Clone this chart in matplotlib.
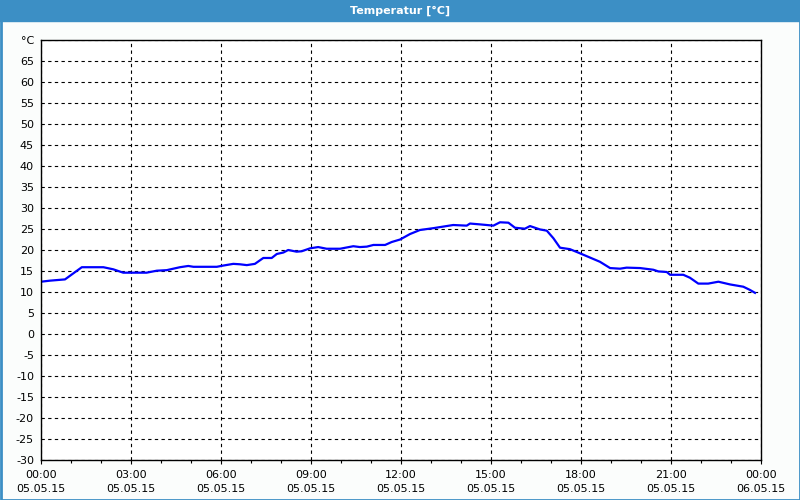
import numpy as np
import matplotlib.pyplot as plt
from matplotlib.patches import Rectangle

# data (hours since 05.05.15 00:00, temperature in °C)
hours = [0.0, 0.3, 0.8, 1.36, 2.08, 2.41, 2.74, 3.52, 3.86, 4.19, 4.63, 4.91, 5.08, 5.86,
         6.08, 6.41, 6.63, 6.86, 7.13, 7.41, 7.69, 7.86, 8.08, 8.24, 8.52, 8.69, 8.97, 9.24,
         9.52, 9.97, 10.41, 10.63, 10.86, 11.08, 11.47, 11.69, 11.97, 12.3, 12.63, 13.08,
         13.52, 13.74, 14.19, 14.3, 14.63, 15.08, 15.3, 15.58, 15.8, 16.13, 16.3, 16.63,
         16.86, 17.08, 17.3, 17.63, 17.97, 18.3, 18.63, 18.97, 19.3, 19.52, 19.97, 20.41,
         20.58, 20.86, 20.97, 21.41, 21.63, 21.91, 22.24, 22.58, 22.97, 23.41, 23.63, 23.8]
temp = [12.45, 12.7, 13.0, 15.9, 15.9, 15.4, 14.6, 14.6, 15.07, 15.2, 15.9, 16.2, 16.0, 16.0,
        16.3, 16.7, 16.6, 16.4, 16.7, 18.1, 18.1, 19.05, 19.4, 20.0, 19.6, 19.7, 20.4, 20.7,
        20.3, 20.3, 20.9, 20.7, 20.8, 21.2, 21.2, 21.9, 22.5, 23.8, 24.76, 25.2,
        25.7, 25.95, 25.8, 26.3, 26.1, 25.8, 26.6, 26.5, 25.3, 25.07, 25.7, 24.9,
        24.6, 22.8, 20.55, 20.2, 19.2, 18.2, 17.2, 15.7, 15.55, 15.8, 15.7, 15.3,
        14.9, 14.76, 14.1, 14.1, 13.4, 12.0, 12.0, 12.45, 11.8, 11.26, 10.5, 9.8]

x_ticks = [0, 3, 6, 9, 12, 15, 18, 21, 24]
x_labels = ['00:00\n05.05.15', '03:00\n05.05.15', '06:00\n05.05.15', '09:00\n05.05.15',
            '12:00\n05.05.15', '15:00\n05.05.15', '18:00\n05.05.15', '21:00\n05.05.15',
            '00:00\n06.05.15']
y_ticks = list(range(-30, 75, 5))
y_labels = [str(v) for v in y_ticks[:-1]] + ['°C']

title_blue = '#3c8fc5'

fig = plt.figure(figsize=(8, 5), dpi=100, facecolor='#fbfdfc')
# title bar and window border
fig.patches.append(Rectangle((0, 1 - 21 / 500), 1, 21 / 500, transform=fig.transFigure,
                             color=title_blue, zorder=0))
fig.patches.append(Rectangle((0.5 / 800, 0.5 / 500), 1 - 1 / 800, 1 - 1 / 500,
                             transform=fig.transFigure, fill=False,
                             edgecolor=title_blue, linewidth=2, zorder=0))
fig.text(0.5, 1 - 10.5 / 500, 'Temperatur [°C]', color='white', fontsize=8,
         fontweight='bold', ha='center', va='center')

ax = fig.add_axes([41 / 800, 40 / 500, 720 / 800, 420 / 500])
ax.set_facecolor('white')
ax.plot(hours, temp, color='#0000ff', linewidth=1.6)

ax.set_xlim(0, 24)
ax.set_ylim(-30, 70)
ax.set_xticks(x_ticks)
ax.set_xticklabels(x_labels, fontsize=8, linespacing=1.55)
ax.set_xticks(range(0, 25), minor=True)
ax.set_yticks(y_ticks)
ax.set_yticklabels(y_labels, fontsize=8)
ax.tick_params(axis='both', length=3, width=0.8, pad=4, colors='black')
ax.tick_params(axis='x', which='minor', length=2, width=0.8)
ax.tick_params(axis='y', length=0, pad=5)
ax.grid(True, which='major', color='black', linestyle=(0, (3, 3)), linewidth=0.8)
for s in ax.spines.values():
    s.set_linewidth(1.0)

fig.savefig('out.png', dpi=100, facecolor=fig.get_facecolor())
